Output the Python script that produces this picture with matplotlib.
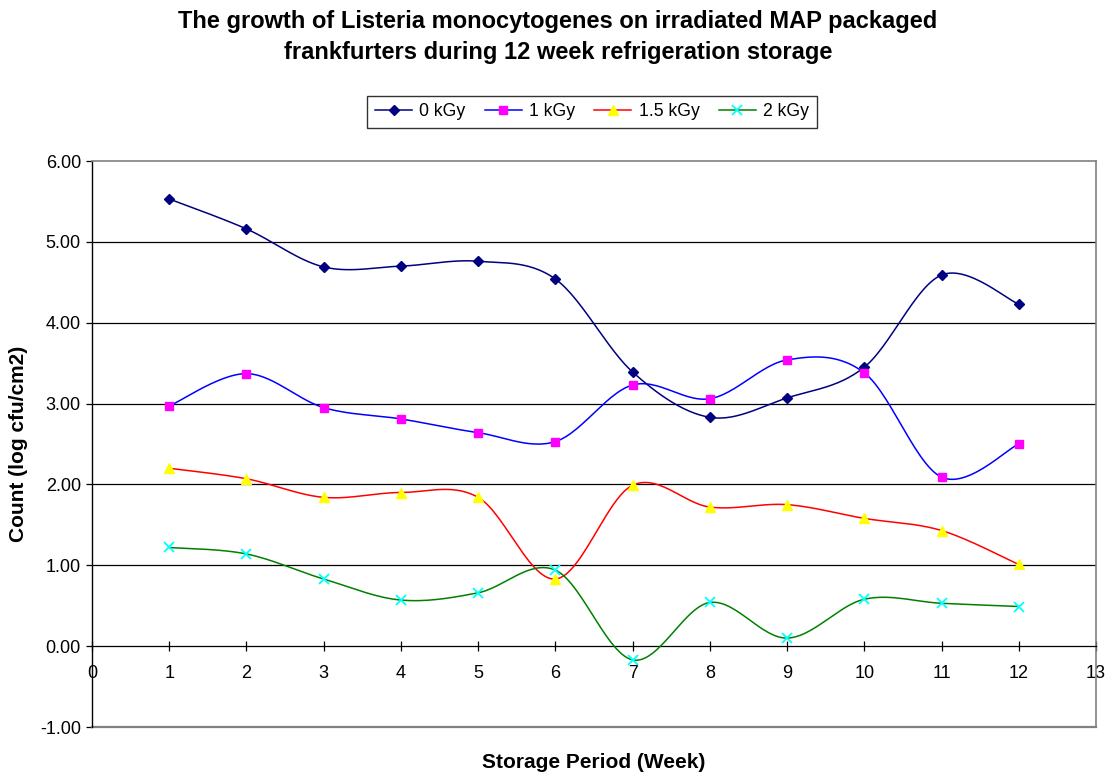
import numpy as np
import matplotlib
matplotlib.use("Agg")
import matplotlib.pyplot as plt
from matplotlib.lines import Line2D

plt.rcParams['font.family'] = ['Liberation Sans', 'DejaVu Sans']

weeks = [1, 2, 3, 4, 5, 6, 7, 8, 9, 10, 11, 12]
kgy0 = [5.53, 5.16, 4.69, 4.70, 4.76, 4.54, 3.39, 2.83, 3.07, 3.45, 4.59, 4.23]
kgy1 = [2.97, 3.37, 2.95, 2.81, 2.64, 2.53, 3.23, 3.06, 3.54, 3.38, 2.09, 2.50]
kgy15 = [2.20, 2.07, 1.84, 1.90, 1.84, 0.83, 1.99, 1.72, 1.75, 1.58, 1.43, 1.01]
kgy2 = [1.22, 1.14, 0.83, 0.57, 0.66, 0.94, -0.17, 0.54, 0.10, 0.58, 0.53, 0.49]
labels = ['0 kGy', '1 kGy', '1.5 kGy', '2 kGy']

title = ("The growth of Listeria monocytogenes on irradiated MAP packaged\n"
         "frankfurters during 12 week refrigeration storage")
xlabel = "Storage Period (Week)"
ylabel = "Count (log cfu/cm2)"


def smooth(x, y, n=30):
    """Excel-style smoothed line: Bezier segments with Catmull-Rom control points."""
    p = np.column_stack([x, y]).astype(float)
    m = len(p)
    out = []
    t = np.linspace(0, 1, n)[:, None]
    for i in range(m - 1):
        p0 = p[i - 1] if i > 0 else p[i]
        p1, p2 = p[i], p[i + 1]
        p3 = p[i + 2] if i + 2 < m else p[i + 1]
        c1 = p1 + (p2 - p0) / 6.0
        c2 = p2 - (p3 - p1) / 6.0
        seg = ((1 - t) ** 3) * p1 + 3 * ((1 - t) ** 2) * t * c1 + 3 * (1 - t) * t ** 2 * c2 + t ** 3 * p2
        out.append(seg if i == 0 else seg[1:])
    s = np.vstack(out)
    return s[:, 0], s[:, 1]


fig = plt.figure(figsize=(11.10, 7.76), dpi=100)
ax = fig.add_axes([92 / 1110, 49 / 776, 1004 / 1110, 566 / 776])

styles = [
    dict(color='#000080', marker='D', mfc='#000080', mec='#000080', ms=5.5),
    dict(color='#0000FF', marker='s', mfc='#FF00FF', mec='#FF00FF', ms=6),
    dict(color='#FF0000', marker='^', mfc='#FFFF00', mec='#FFFF00', ms=7),
    dict(color='#008000', marker='x', mfc='#00FFFF', mec='#00FFFF', ms=7, mew=1.3),
]
series = [kgy0, kgy1, kgy15, kgy2]
handles = []
for vals, st, lab in zip(series, styles, labels):
    sx, sy = smooth(weeks, vals)
    ax.plot(sx, sy, color=st['color'], lw=1.1, zorder=3)
    ax.plot(weeks, vals, ls='none', marker=st['marker'], mfc=st['mfc'], mec=st['mec'],
            ms=st['ms'], mew=st.get('mew', 1.0), zorder=4)
    handles.append(Line2D([], [], color=st['color'], lw=1.1, marker=st['marker'],
                          mfc=st['mfc'], mec=st['mec'], ms=st['ms'] - 0.5, mew=st.get('mew', 1.0)))

ax.set_xlim(0, 13)
ax.set_ylim(-1, 6)
ax.set_xticks(range(0, 14))
ax.set_yticks(range(-1, 7))
ax.set_yticklabels([f"{v:.2f}" for v in range(-1, 7)])
ax.set_xticklabels([str(v) for v in range(0, 14)])

for v in range(1, 6):
    ax.axhline(v, color='black', lw=0.9, zorder=1)

ax.spines['bottom'].set_position(('data', 0))
ax.spines['bottom'].set_color('black')
ax.spines['bottom'].set_linewidth(0.9)
ax.spines['left'].set_color('black')
ax.spines['left'].set_linewidth(1.0)
ax.spines['top'].set_color('#808080')
ax.spines['right'].set_color('#808080')
ax.spines['top'].set_linewidth(1.2)
ax.spines['right'].set_linewidth(1.2)
ax.plot([0, 13], [-1, -1], color='#808080', lw=1.6, clip_on=False, zorder=2)

ax.tick_params(axis='x', direction='inout', length=7, width=0.9, pad=10, colors='black',
               labelsize=13)
ax.tick_params(axis='y', direction='out', length=4, width=0.9, pad=4, labelsize=13)

ax.text(0.5, -36 / 566, xlabel, transform=ax.transAxes, ha='center', va='center',
        fontsize=15, fontweight='bold')
ax.text(-73 / 1004, 0.5, ylabel, transform=ax.transAxes, ha='center', va='center',
        rotation=90, fontsize=15, fontweight='bold')

fig.text(558 / 1110, 1 - 37 / 776, title, ha='center', va='center', fontsize=17,
         fontweight='bold', linespacing=1.42)

leg = fig.legend(handles, labels, loc='center', bbox_to_anchor=(592 / 1110, 1 - 112 / 776),
                 ncol=4, fontsize=12.7, frameon=True, fancybox=False, handlelength=2.1,
                 handletextpad=0.4, columnspacing=1.1, borderpad=0.45)
leg.get_frame().set_edgecolor('black')
leg.get_frame().set_linewidth(1.0)

fig.savefig('out.png', dpi=100)
